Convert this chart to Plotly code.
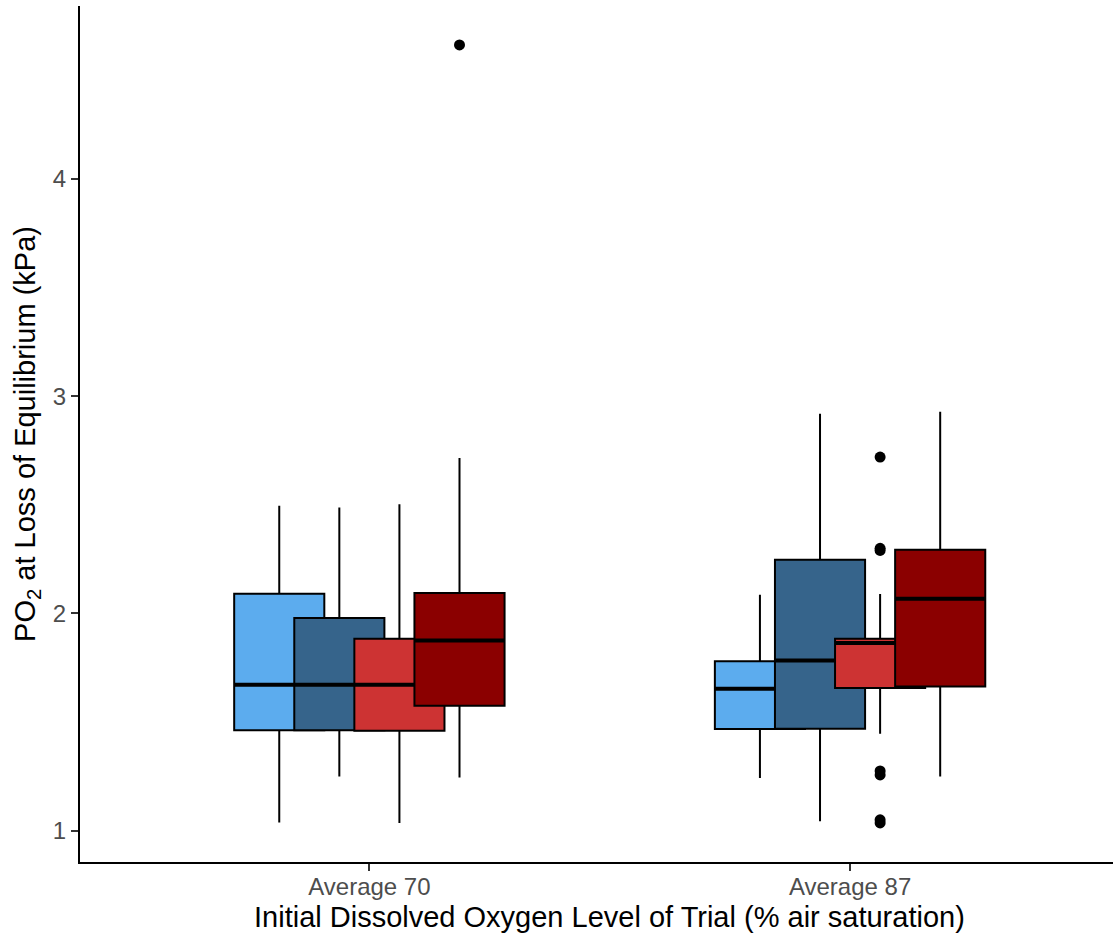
import plotly.graph_objects as go

categories = ["Average 70", "Average 87"]
cat_pos = [1, 2]
groups = ["G1", "G2", "G3", "G4"]
colors = ["#5CACEE", "#36648B", "#CD3333", "#8B0000"]
offsets = [-0.1875, -0.0625, 0.0625, 0.1875]
box_width = 0.1875

# per group: values for [Average 70, Average 87]
q1 = [[1.462, 1.468], [1.462, 1.469], [1.460, 1.657], [1.575, 1.664]]
median = [[1.672, 1.653], [1.672, 1.784], [1.672, 1.864], [1.876, 2.068]]
q3 = [[2.091, 1.780], [1.979, 2.247], [1.884, 1.884], [2.094, 2.293]]
lowerfence = [[1.038, 1.243], [1.250, 1.043], [1.035, 1.446], [1.245, 1.250]]
upperfence = [[2.496, 2.086], [2.488, 2.919], [2.503, 2.089], [2.716, 2.928]]

# outliers: (group index, category index, value)
outlier_group = [3, 2, 2, 2, 2, 2, 2, 2]
outlier_cat = [0, 1, 1, 1, 1, 1, 1, 1]
outlier_val = [4.617, 2.720, 2.300, 2.290, 1.275, 1.257, 1.050, 1.036]

fig = go.Figure()
for g in range(4):
    xs = [c + offsets[g] for c in cat_pos]
    fig.add_trace(go.Box(
        x=xs, q1=q1[g], median=median[g], q3=q3[g],
        lowerfence=lowerfence[g], upperfence=upperfence[g],
        width=box_width, fillcolor=colors[g],
        line=dict(color="black", width=2), whiskerwidth=0,
        boxpoints=False, name=groups[g], showlegend=False, hoverinfo="skip"))
    # thicker median bar (ggplot fatten)
    fig.add_trace(go.Box(
        x=xs, q1=median[g], median=median[g], q3=median[g],
        lowerfence=median[g], upperfence=median[g],
        width=box_width, fillcolor="black",
        line=dict(color="black", width=4), whiskerwidth=0,
        boxpoints=False, showlegend=False, hoverinfo="skip"))

fig.add_trace(go.Scatter(
    x=[cat_pos[c] + offsets[g] for g, c in zip(outlier_group, outlier_cat)],
    y=outlier_val, mode="markers",
    marker=dict(color="black", size=11), showlegend=False, hoverinfo="skip"))

font = "Liberation Sans, Arial, Helvetica, sans-serif"
x_title = "Initial Dissolved Oxygen Level of Trial (% air saturation)"
fig.update_layout(
    width=1113, height=936,
    margin=dict(l=80, r=0, t=6, b=74),
    plot_bgcolor="white", paper_bgcolor="white",
    boxmode="overlay",
    font=dict(family=font, color="black"),
    xaxis=dict(
        range=[0.398, 2.547], tickvals=cat_pos, ticktext=categories,
        showline=True, linecolor="black", linewidth=2, mirror=False,
        ticks="outside", ticklen=7, tickwidth=2, tickcolor="#333333",
        ticklabelstandoff=-5,
        tickfont=dict(size=24, color="#4D4D4D", family=font),
        showgrid=False, zeroline=False),
    yaxis=dict(
        range=[0.856, 4.796], tickvals=[1, 2, 3, 4],
        showline=True, linecolor="black", linewidth=2,
        ticks="outside", ticklen=7, tickwidth=2, tickcolor="#333333",
        tickfont=dict(size=24, color="#4D4D4D", family=font),
        showgrid=False, zeroline=False,
        title=dict(text="PO<sub>2</sub> at Loss of Equilibrium (kPa)",
                   font=dict(size=29, color="black", family=font), standoff=9)),
    annotations=[dict(
        text=x_title, xref="x", x=1.5, yref="paper", y=0,
        xanchor="center", yanchor="middle", yshift=-55, showarrow=False,
        font=dict(size=29, color="black", family=font))],
)

fig.write_html("out.html")
